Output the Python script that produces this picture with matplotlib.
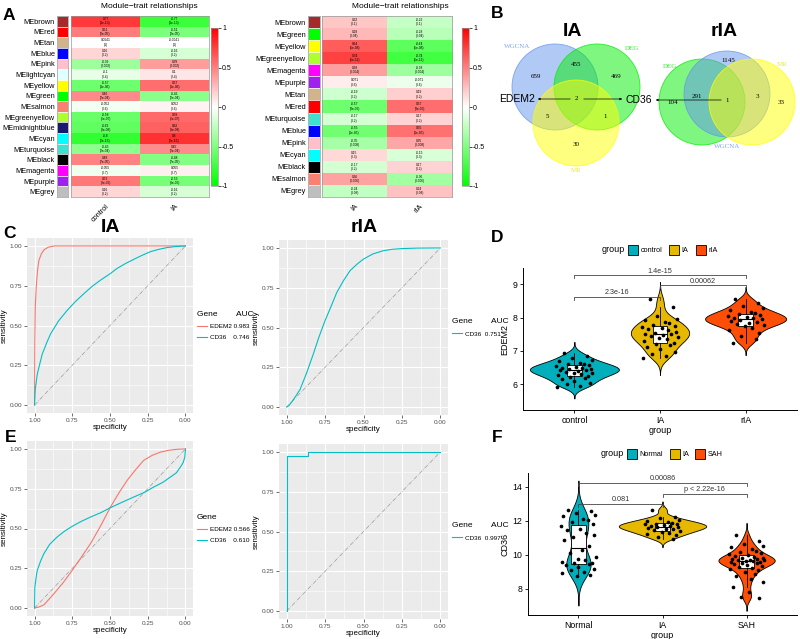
"""Figura composta: heatmaps WGCNA, Venn, curvas ROC e violinos."""

import numpy as np
import matplotlib
matplotlib.use("Agg")
import matplotlib.pyplot as plt
from matplotlib.colors import LinearSegmentedColormap
from matplotlib.patches import Circle, Rectangle
from matplotlib.lines import Line2D

plt.rcParams['font.family'] = ['Liberation Sans', 'DejaVu Sans']

# ---------------- dados ----------------
A1_MODULES = ["MEbrown", "MEred", "MEtan", "MEblue", "MEpink", "MElightcyan",
              "MEyellow", "MEgreen", "MEsalmon", "MEgreenyellow", "MEmidnightblue",
              "MEcyan", "MEturquoise", "MEblack", "MEmagenta", "MEpurple", "MEgrey"]
A1_COR = [0.77, 0.51, 0.0041, 0.16, -0.39, -0.1, -0.57, 0.46, -0.052, -0.58,
          -0.62, -0.8, -0.45, 0.48, -0.055, 0.53, 0.16]
A1_P = ["1e-13", "2e-05", "1", "0.2", "0.002", "0.4", "1e-06", "2e-04", "0.6",
        "6e-07", "8e-08", "2e-15", "2e-04", "7e-05", "0.7", "8e-06", "0.2"]
A1_TRAITS = ["control", "IA"]

A2_MODULES = ["MEbrown", "MEgreen", "MEyellow", "MEgreenyellow", "MEmagenta",
              "MEpurple", "MEtan", "MEred", "MEturquoise", "MEblue", "MEpink",
              "MEcyan", "MEblack", "MEsalmon", "MEgrey"]
A2_COR = [0.22, 0.28, 0.64, 0.74, 0.38, 0.071, -0.19, -0.57, -0.17, -0.55,
          -0.35, 0.15, -0.17, 0.36, -0.24]
A2_P = ["0.1", "0.04", "5e-08", "5e-11", "0.004", "0.6", "0.2", "3e-06", "0.2",
        "1e-05", "0.008", "0.3", "0.2", "0.006", "0.08"]
A2_TRAITS = ["IA", "rIA"]

MODULE_COLORS = {
    "MEbrown": "#A52A2A", "MEred": "#FF0000", "MEtan": "#D2B48C", "MEblue": "#0000FF",
    "MEpink": "#FFC0CB", "MElightcyan": "#E0FFFF", "MEyellow": "#FFFF00",
    "MEgreen": "#00FF00", "MEsalmon": "#FA8072", "MEgreenyellow": "#ADFF2F",
    "MEmidnightblue": "#191970", "MEcyan": "#00FFFF", "MEturquoise": "#40E0D0",
    "MEblack": "#000000", "MEmagenta": "#FF00FF", "MEpurple": "#A020F0",
    "MEgrey": "#BEBEBE",
}

# Venn (contagens por região)
VENN_IA_COUNTS = [659, 455, 469, 2, 5, 1, 30]
VENN_RIA_COUNTS = [1145, 291, 1, 3, 104, 33]

# ROC
C1_EDEM2_SPEC = [1.0, 0.998, 0.995, 0.989, 0.98, 0.971, 0.955, 0.938, 0.91, 0.87, 0.0]
C1_EDEM2_SENS = [0.0, 0.40, 0.62, 0.74, 0.85, 0.91, 0.95, 0.975, 0.992, 1.0, 1.0]
C1_CD36_SPEC = [1.0, 0.995, 0.982, 0.965, 0.949, 0.92, 0.894, 0.84, 0.784, 0.73,
                0.673, 0.62, 0.563, 0.5, 0.453, 0.4, 0.342, 0.29, 0.232, 0.18,
                0.121, 0.06, 0.0]
C1_CD36_SENS = [0.0, 0.10, 0.194, 0.26, 0.32, 0.39, 0.447, 0.53, 0.595, 0.65,
                0.70, 0.745, 0.785, 0.825, 0.859, 0.888, 0.916, 0.94, 0.964, 0.978,
                0.99, 0.997, 1.0]
C2_CD36_SPEC = [1.0, 0.985, 0.965, 0.94, 0.913, 0.87, 0.826, 0.79, 0.75, 0.71,
                0.674, 0.63, 0.587, 0.54, 0.5, 0.44, 0.37, 0.31, 0.25, 0.15, 0.0]
C2_CD36_SENS = [0.0, 0.01, 0.035, 0.07, 0.11, 0.215, 0.335, 0.44, 0.544, 0.635,
                0.72, 0.795, 0.858, 0.90, 0.93, 0.962, 0.983, 0.992, 0.996, 0.999, 1.0]
E1_EDEM2_SPEC = [1.0, 0.97, 0.938, 0.9, 0.872, 0.81, 0.75, 0.69, 0.629, 0.56,
                 0.497, 0.44, 0.386, 0.33, 0.276, 0.22, 0.166, 0.11, 0.055, 0.0]
E1_EDEM2_SENS = [0.0, 0.007, 0.02, 0.06, 0.09, 0.16, 0.237, 0.32, 0.405, 0.52,
                 0.635, 0.725, 0.803, 0.87, 0.929, 0.96, 0.98, 0.992, 0.998, 1.0]
E1_CD36_SPEC = [1.0, 0.999, 0.998, 0.99, 0.982, 0.96, 0.938, 0.9, 0.85, 0.8, 0.75,
                0.69, 0.629, 0.56, 0.497, 0.42, 0.342, 0.27, 0.21, 0.15, 0.099,
                0.06, 0.033, 0.015, 0.004, 0.0]
E1_CD36_SENS = [0.0, 0.06, 0.13, 0.19, 0.237, 0.295, 0.342, 0.40, 0.447, 0.484,
                0.514, 0.545, 0.572, 0.60, 0.631, 0.665, 0.698, 0.728, 0.761, 0.79,
                0.824, 0.85, 0.887, 0.915, 0.95, 1.0]
E2_CD36_SPEC = [1.0, 1.0, 0.862, 0.862, 0.0]
E2_CD36_SENS = [0.0, 0.977, 0.977, 1.0, 1.0]

# Violinos
D_GROUPS = ["control", "IA", "rIA"]
D_CONTROL = [6.93, 6.85, 6.80, 6.72, 6.70, 6.65, 6.62, 6.60, 6.58, 6.55, 6.52, 6.50,
             6.48, 6.47, 6.45, 6.43, 6.42, 6.40, 6.38, 6.35, 6.33, 6.30, 6.28, 6.25,
             6.22, 6.18, 6.15, 6.10, 6.05, 6.00, 5.95, 5.92]
D_IA = [8.55, 8.31, 8.05, 7.95, 7.92, 7.88, 7.85, 7.78, 7.75, 7.72, 7.70, 7.65,
        7.62, 7.58, 7.55, 7.52, 7.50, 7.48, 7.45, 7.42, 7.38, 7.35, 7.30, 7.25,
        7.22, 7.18, 7.12, 7.05, 6.98, 6.90, 6.85, 6.80]
D_RIA = [8.55, 8.45, 8.35, 8.28, 8.22, 8.18, 8.15, 8.10, 8.08, 8.05, 8.02, 8.00,
         7.98, 7.95, 7.92, 7.90, 7.88, 7.85, 7.82, 7.78, 7.75, 7.70, 7.62, 7.55,
         7.45, 7.35, 7.25]
D_BRACKETS = [(1, 3, 9.28, "1.4e-15"), (2, 3, 8.98, "0.00062"), (1, 2, 8.63, "2.3e-16")]

F_GROUPS = ["Normal", "IA", "SAH"]
F_NORMAL = [12.65, 12.60, 12.45, 12.35, 12.30, 12.10, 12.05, 11.95, 11.80, 11.70,
            11.55, 11.45, 11.30, 11.20, 11.05, 10.90, 10.50, 10.30, 10.10, 9.90,
            9.75, 9.70, 9.60, 9.55, 9.50, 9.45, 9.40, 9.30, 9.20, 9.10, 9.00, 8.95,
            8.85, 8.75]
F_IA = [12.65, 12.25, 12.15, 12.05, 12.00, 11.95, 11.90, 11.85, 11.82, 11.80, 11.75,
        11.70, 11.68, 11.65, 11.62, 11.60, 11.55, 11.50, 11.45, 11.40, 11.35, 11.30,
        11.25, 11.15, 11.05, 10.95]
F_SAH = [11.15, 10.85, 10.65, 10.55, 10.45, 10.35, 10.25, 10.15, 10.10, 10.05, 10.00,
         9.95, 9.90, 9.85, 9.80, 9.78, 9.75, 9.72, 9.70, 9.68, 9.65, 9.62, 9.60, 9.58,
         9.55, 9.50, 9.45, 9.40, 9.35, 9.30, 9.25, 9.20, 9.10, 9.00, 8.90, 8.75, 8.60,
         8.40, 8.10, 7.80, 7.55, 7.45]
F_BRACKETS = [(1, 3, 14.25, "0.00086"), (2, 3, 13.59, "p < 2.22e-16"), (1, 2, 13.0, "0.081")]

JITTER = [-0.12, 0.15, -0.03, 0.20, -0.18, 0.06, 0.11, -0.08, 0.17, -0.21,
          0.02, -0.14, 0.09, 0.19, -0.06, -0.17, 0.13, 0.04, -0.10, 0.21,
          -0.01, 0.08, -0.19, 0.16, -0.05, 0.12, -0.15, 0.00, 0.18, -0.09,
          0.07, -0.20, 0.14, -0.02, 0.10, -0.13, 0.05, 0.19, -0.16, 0.03,
          -0.07, 0.15, -0.11, 0.01, 0.20]

VIOLIN_COLORS = ["#00AFBB", "#E7B800", "#FC4E07"]
ROC_RED, ROC_CYAN = "#F8766D", "#00BFC4"

W, H = 800, 639
fig = plt.figure(figsize=(8, 6.39), dpi=100)


def rect(l, t, r, b):
    return [l / W, 1 - b / H, (r - l) / W, (b - t) / H]


CMAP = LinearSegmentedColormap.from_list("gwr", ["#00FF00", "#FFFFFF", "#FF0000"])


def heatmap(strip_px, hm_px, cb_px, modules, cor, pvals, traits, title, title_x):
    n = len(modules)
    cor = np.array(cor)
    mat = np.column_stack([cor, -cor])
    ax_s = fig.add_axes(rect(*strip_px))
    for i, m in enumerate(modules):
        ax_s.add_patch(Rectangle((0, i - 0.5), 1, 1, facecolor=MODULE_COLORS[m],
                                 edgecolor='white', lw=0.4))
    ax_s.set_xlim(0, 1)
    ax_s.set_ylim(n - 0.5, -0.5)
    ax_s.set_xticks([])
    ax_s.set_yticks(range(n))
    ax_s.set_yticklabels(modules, fontsize=5.3)
    ax_s.tick_params(axis='y', length=0, pad=1.5)
    for s in ax_s.spines.values():
        s.set_color('#999999')
        s.set_linewidth(0.5)

    ax_h = fig.add_axes(rect(*hm_px))
    im = ax_h.imshow(mat, cmap=CMAP, vmin=-1, vmax=1, aspect='auto',
                     interpolation='nearest')
    for i in range(n):
        for j in range(2):
            txt = f"{mat[i, j]:g}\n({pvals[i]})"
            ax_h.text(j, i, txt, ha='center', va='center', fontsize=2.3,
                      linespacing=1.1)
    ax_h.set_yticks([])
    ax_h.set_xticks([0, 1])
    ax_h.set_xticklabels(traits, rotation=45, ha='right', va='top',
                         rotation_mode='anchor', fontsize=5.3)
    ax_h.tick_params(axis='x', length=0, pad=4)
    for s in ax_h.spines.values():
        s.set_color('#999999')
        s.set_linewidth(0.5)

    ax_c = fig.add_axes(rect(*cb_px))
    cb = fig.colorbar(im, cax=ax_c, ticks=[-1, -0.5, 0, 0.5, 1])
    cb.ax.set_yticklabels(["-1", "-0.5", "0", "0.5", "1"])
    cb.ax.tick_params(labelsize=5, length=2, width=0.5, pad=1)
    cb.outline.set_edgecolor('#999999')
    cb.outline.set_linewidth(0.5)
    fig.text(title_x / W, 1 - 7 / H, title, ha='center', va='center', fontsize=6)


heatmap((57, 16, 68, 197), (71, 16, 209, 197), (211, 28, 218, 186),
        A1_MODULES, A1_COR, A1_P, A1_TRAITS, "Module\u2212trait relationships", 149)
heatmap((308, 16, 320, 197), (322, 16, 452, 197), (462, 28, 469, 186),
        A2_MODULES, A2_COR, A2_P, A2_TRAITS, "Module\u2212trait relationships", 400)


def roc_axes(px):
    ax = fig.add_axes(rect(*px))
    ax.set_facecolor('#EBEBEB')
    ax.set_xlim(1.05, -0.05)
    ax.set_ylim(-0.05, 1.05)
    ticks = [0, 0.25, 0.5, 0.75, 1]
    ax.set_xticks(ticks)
    ax.set_yticks(ticks)
    ax.set_xticklabels(["0.00", "0.25", "0.50", "0.75", "1.00"])
    ax.set_yticklabels(["0.00", "0.25", "0.50", "0.75", "1.00"])
    minor = [0.125, 0.375, 0.625, 0.875]
    ax.set_xticks(minor, minor=True)
    ax.set_yticks(minor, minor=True)
    ax.grid(which='major', color='white', lw=0.8)
    ax.grid(which='minor', color='white', lw=0.4)
    ax.set_axisbelow(True)
    for s in ax.spines.values():
        s.set_visible(False)
    ax.tick_params(which='major', length=2, width=0.5, color='#333333',
                   labelsize=4.6, labelcolor='#4D4D4D', pad=1.5)
    ax.tick_params(which='minor', length=0)
    ax.plot([1, 0], [0, 1], color='#9A9A9A', lw=0.5, ls=(0, (6, 2, 1, 2)))
    ax.set_xlabel('specificity', fontsize=5.8, labelpad=1)
    ax.set_ylabel('sensitivity', fontsize=5.8, labelpad=1)
    return ax


def roc_legend(ax, labels, colors, title):
    handles = [Line2D([], [], color=c, lw=0.8) for c in colors]
    leg = ax.legend(handles, labels, title=title, loc='center left',
                    bbox_to_anchor=(1.0, 0.5), frameon=False, fontsize=4.6,
                    title_fontsize=6, handlelength=1.6, handletextpad=0.5,
                    borderaxespad=0.2, labelspacing=0.9, alignment='left')
    return leg


ax = roc_axes((27, 238, 193, 413))
ax.plot(C1_EDEM2_SPEC, C1_EDEM2_SENS, color=ROC_RED, lw=0.8)
ax.plot(C1_CD36_SPEC, C1_CD36_SENS, color=ROC_CYAN, lw=0.8)
roc_legend(ax, ["EDEM2 0.983", "CD36    0.746"], [ROC_RED, ROC_CYAN], "Gene        AUC")

ax = roc_axes((279, 240, 448, 415))
ax.plot(C2_CD36_SPEC, C2_CD36_SENS, color=ROC_CYAN, lw=0.8)
roc_legend(ax, ["CD36  0.751"], [ROC_CYAN], "Gene        AUC")

ax = roc_axes((27, 441, 193, 616))
ax.plot(E1_EDEM2_SPEC, E1_EDEM2_SENS, color=ROC_RED, lw=0.8)
ax.plot(E1_CD36_SPEC, E1_CD36_SENS, color=ROC_CYAN, lw=0.8)
roc_legend(ax, ["EDEM2 0.566", "CD36    0.610"], [ROC_RED, ROC_CYAN], "Gene")

ax = roc_axes((279, 444, 448, 619))
ax.plot(E2_CD36_SPEC, E2_CD36_SENS, color=ROC_CYAN, lw=0.8)
roc_legend(ax, ["CD36  0.997"], [ROC_CYAN], "Gene        AUC")


def kde(vals, grid, bw):
    v = np.asarray(vals)
    z = (grid[:, None] - v[None, :]) / bw
    return np.exp(-0.5 * z ** 2).sum(1) / (len(v) * bw * np.sqrt(2 * np.pi))


def violin_axes(px, groups, data, ylim, yticks, ylabel, brackets, tip):
    ax = fig.add_axes(rect(*px))
    dens = []
    for vals in data:
        v = np.asarray(vals)
        iqr = np.subtract(*np.percentile(v, [75, 25]))
        bw = 0.9 * min(v.std(ddof=1), iqr / 1.34) * len(v) ** -0.2
        grid = np.linspace(v.min() - 3 * bw, v.max() + 3 * bw, 300)
        dens.append((grid, kde(v, grid, bw)))
    dmax = max(d.max() for _, d in dens)
    for k, ((grid, d), col) in enumerate(zip(dens, VIOLIN_COLORS)):
        hw = 0.52 * d / dmax
        ax.fill_betweenx(grid, k + 1 - hw, k + 1 + hw, facecolor=col,
                         edgecolor='black', lw=0.6, zorder=2)
    ax.boxplot(data, positions=[1, 2, 3], widths=0.17, patch_artist=True,
               showfliers=False, manage_ticks=False,
               boxprops=dict(facecolor='white', edgecolor='black', lw=0.6),
               whiskerprops=dict(color='black', lw=0.6),
               capprops=dict(lw=0), medianprops=dict(color='black', lw=0.8),
               zorder=3)
    for k, vals in enumerate(data):
        ax.scatter(np.array(JITTER[:len(vals)]) + k + 1, vals, s=7, c='black',
                   zorder=4, linewidths=0)
    for i, j, y, lab in brackets:
        ax.plot([i, i, j, j], [y - tip, y, y, y - tip], color='#444444', lw=0.6,
                zorder=5)
        ax.text((i + j) / 2, y + tip * 0.15, lab, ha='center', va='bottom',
                fontsize=5.2, color='#333333')
    ax.set_xlim(0.4, 3.6)
    ax.set_ylim(*ylim)
    ax.set_yticks(yticks)
    ax.set_xticks([1, 2, 3])
    ax.set_xticklabels(groups)
    ax.tick_params(labelsize=6.3, length=2.5, width=0.6, pad=1.5)
    for s in ['top', 'right']:
        ax.spines[s].set_visible(False)
    for s in ['left', 'bottom']:
        ax.spines[s].set_linewidth(0.7)
    ax.set_ylabel(ylabel, fontsize=6.5, labelpad=2)
    ax.set_xlabel('group', fontsize=6.5, labelpad=1)
    return ax


violin_axes((523, 268, 797, 410), D_GROUPS, [D_CONTROL, D_IA, D_RIA],
            (5.23, 9.49), [6, 7, 8, 9], "EDEM2", D_BRACKETS, 0.09)
violin_axes((528, 473, 797, 615), F_GROUPS, [F_NORMAL, F_IA, F_SAH],
            (6.47, 14.82), [8, 10, 12, 14], "CD36", F_BRACKETS, 0.18)

# ---------- camada de anotação em pixels ----------
ov = fig.add_axes([0, 0, 1, 1])
ov.set_xlim(0, W)
ov.set_ylim(H, 0)
ov.axis('off')
ov.patch.set_alpha(0)

for letter, x, y in [("A", 9, 16), ("B", 497, 13), ("C", 9, 233),
                     ("D", 497, 237), ("E", 11, 437), ("F", 497, 437)]:
    ov.text(x, y, letter, fontsize=12.5, fontweight='bold', ha='center', va='center')

for t, x, y in [("IA", 111, 228), ("rIA", 364, 228), ("IA", 573, 32), ("rIA", 724, 32)]:
    ov.text(x, y, t, fontsize=14, fontweight='bold', ha='center', va='center')

# Venn
BLUE, GREEN, YELLOW = "#6495ED", "#00EE00", "#FFFF00"
for cx, cy, col in [(555, 87, BLUE), (597, 87, GREEN), (576, 123, YELLOW),
                    (702, 102, GREEN), (727, 94, BLUE), (752, 102, YELLOW)]:
    ov.add_patch(Circle((cx, cy), 43, facecolor=col, alpha=0.5, edgecolor='none'))
    ov.add_patch(Circle((cx, cy), 43, facecolor='none', edgecolor=col, lw=0.6, alpha=0.8))

vfont = dict(fontsize=5, family=['Liberation Serif', 'DejaVu Serif'], ha='center',
             va='center')
for cnt, (x, y) in zip(VENN_IA_COUNTS, [(536, 76), (576, 65), (616, 76), (576, 99),
                                        (547, 117), (605, 117), (576, 145)]):
    ov.text(x, y, str(cnt), **vfont)
for cnt, (x, y) in zip(VENN_RIA_COUNTS, [(728, 60), (697, 96), (727, 101),
                                         (757, 96), (673, 102), (781, 102)]):
    ov.text(x, y, str(cnt), **vfont)
for lab, x, y, col in [("WGCNA", 517, 46, "#7FA6F0"), ("DEG", 632, 48, "#33EE33"),
                       ("MR", 576, 170, "#E8E840"), ("DEG", 670, 66, "#33EE33"),
                       ("MR", 782, 65, "#E8E840"), ("WGCNA", 727, 146, "#7FA6F0")]:
    ov.text(x, y, lab, color=col, **vfont)

ov.text(517, 99, "EDEM2", fontsize=7.5, ha='center', va='center')
ov.text(639, 100, "CD36", fontsize=7.5, ha='center', va='center')
arrow = dict(arrowstyle='-|>', color='black', lw=0.5, mutation_scale=3)
ov.annotate("", xy=(535, 99), xytext=(573, 99), arrowprops=arrow)
ov.annotate("", xy=(625, 99), xytext=(581, 99), arrowprops=arrow)
ov.annotate("", xy=(653, 100), xytext=(724, 100), arrowprops=arrow)

# legendas dos violinos
for (gx, gy), groups, boxes in [((613, 250), D_GROUPS, [628, 669, 696]),
                                ((612, 454), F_GROUPS, [627, 670, 695])]:
    ov.text(gx, gy, "group", fontsize=6.5, ha='center', va='center')
    for bx, g, col in zip(boxes, groups, VIOLIN_COLORS):
        ov.add_patch(Rectangle((bx, gy - 5), 10, 10, facecolor=col,
                               edgecolor='black', lw=0.6))
        ov.text(bx + 12.5, gy, g, fontsize=5.2, ha='left', va='center')

fig.savefig("out.png", dpi=100)
